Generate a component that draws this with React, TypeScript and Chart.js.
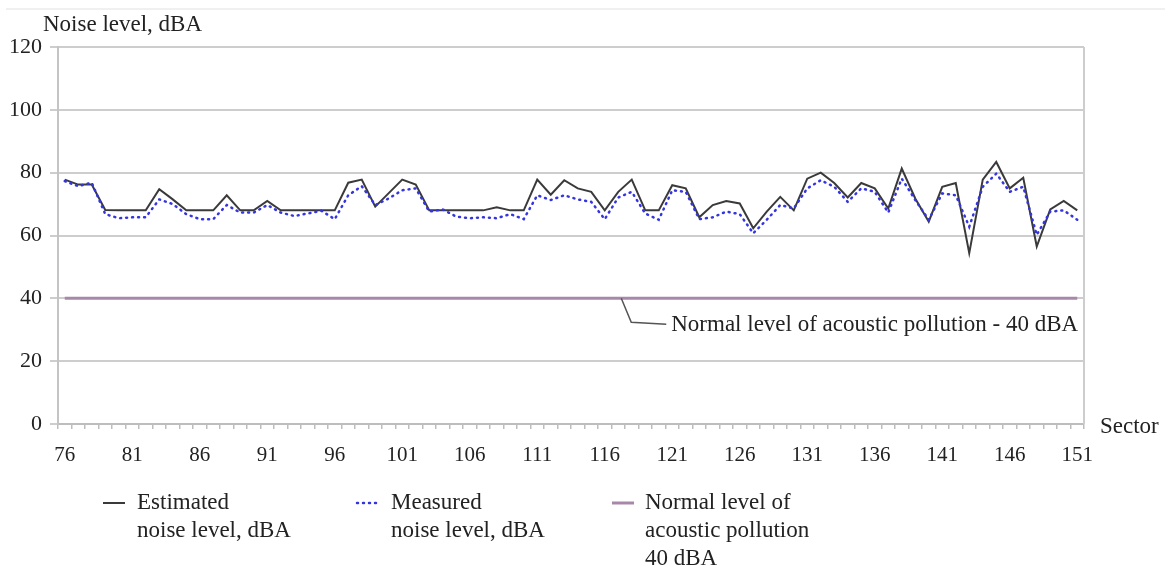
import React, { useEffect, useRef } from "react";
import { Chart, registerables } from "chart.js";

Chart.register(...registerables);

const sectors = [
  "76", "77", "78", "79", "80", "81", "82", "83", "84", "85", "86", "87", "88", "89", "90",
  "91", "92", "93", "94", "95", "96", "97", "98", "99", "100", "101", "102", "103", "104", "105",
  "106", "107", "108", "109", "110", "111", "112", "113", "114", "115", "116", "117", "118", "119", "120",
  "121", "122", "123", "124", "125", "126", "127", "128", "129", "130", "131", "132", "133", "134", "135",
  "136", "137", "138", "139", "140", "141", "142", "143", "144", "145", "146", "147", "148", "149", "150",
  "151",
];

const estimated = [
  77.8, 76.2, 76.2, 68.1, 68, 68, 68, 74.7, 71.5, 68, 68, 68, 72.8, 68, 68,
  71, 68, 68, 68, 68, 68, 76.8, 77.8, 69.2, 73.5, 77.8, 76.2, 68, 68, 68,
  68, 68, 69, 68, 68, 77.8, 73, 77.6, 75, 73.9, 68, 73.9, 77.8, 68, 68,
  76, 75, 65.8, 69.7, 71, 70.2, 62.3, 67.6, 72.3, 68, 78.1, 80, 76.7, 72.1, 76.7,
  75, 68.6, 81.3, 71.8, 64.4, 75.5, 76.7, 54.4, 77.8, 83.4, 75, 78.4, 56.5, 68.3, 71,
  68,
];

const measured = [
  77.3, 75.7, 76.8, 66.8, 65.5, 65.8, 65.8, 71.5, 70, 66.8, 65.2, 65.2, 69.7, 67.3, 67.3,
  69.7, 67.3, 66.2, 67, 67.9, 65.2, 72.8, 75.7, 69.7, 71.8, 74.4, 75, 67.6, 68.3, 66,
  65.5, 65.8, 65.5, 66.8, 65.2, 72.8, 71.3, 72.8, 71.5, 70.7, 65.2, 72.1, 73.9, 67, 65,
  74.4, 73.9, 65.2, 65.8, 67.6, 66.8, 60.7, 65, 69.7, 68.6, 75, 77.6, 75.5, 70.7, 75,
  73.9, 67.3, 78.1, 71.3, 65, 73.4, 72.8, 62.8, 75.5, 79.7, 73.9, 75.5, 60.2, 67.6, 68,
  65,
];

const normalLevel = [
  40, 40, 40, 40, 40, 40, 40, 40, 40, 40, 40, 40, 40, 40, 40,
  40, 40, 40, 40, 40, 40, 40, 40, 40, 40, 40, 40, 40, 40, 40,
  40, 40, 40, 40, 40, 40, 40, 40, 40, 40, 40, 40, 40, 40, 40,
  40, 40, 40, 40, 40, 40, 40, 40, 40, 40, 40, 40, 40, 40, 40,
  40, 40, 40, 40, 40, 40, 40, 40, 40, 40, 40, 40, 40, 40, 40,
  40,
];

const yTicks = [0, 20, 40, 60, 80, 100, 120];

const legendLabels = [
  ["Estimated", "noise level, dBA"],
  ["Measured", "noise level, dBA"],
  ["Normal level of", "acoustic pollution", "40 dBA"],
];

const yTitle = "Noise level, dBA";
const xTitle = "Sector";
const annotationText = "Normal level of acoustic pollution - 40 dBA";

const FONT = "'Liberation Serif', 'Times New Roman', serif";
const C_EST = "#3a3a3a";
const C_MEAS = "#3535e0";
const C_NORM = "#a888a8";
const C_GRID = "#cdcdcd";
const C_TEXT = "#222222";

const overlayPlugin = {
  id: "overlay",
  afterDraw(chart: any) {
    const { ctx, chartArea, scales } = chart;
    const xs = scales.x;
    const ys = scales.y;
    ctx.save();
    // right border of plot
    ctx.strokeStyle = C_GRID;
    ctx.lineWidth = 2;
    ctx.beginPath();
    ctx.moveTo(chartArea.right, chartArea.top);
    ctx.lineTo(chartArea.right, chartArea.bottom);
    ctx.stroke();
    // faint outer top line
    ctx.strokeStyle = "#f0f0f0";
    ctx.lineWidth = 2;
    ctx.beginPath();
    ctx.moveTo(6, 9);
    ctx.lineTo(1165, 9);
    ctx.stroke();

    ctx.fillStyle = C_TEXT;
    ctx.font = `23px ${FONT}`;
    ctx.textBaseline = "middle";
    ctx.textAlign = "left";
    ctx.fillText(yTitle, 43, 25);
    ctx.fillText(xTitle, chartArea.right + 16, chartArea.bottom + 3);

    // annotation leader
    const y40 = ys.getPixelForValue(40);
    const sx = xs.getPixelForValue(41) + 3;
    ctx.strokeStyle = "#555555";
    ctx.lineWidth = 1.5;
    ctx.beginPath();
    ctx.moveTo(sx, y40);
    ctx.lineTo(sx + 10, y40 + 24);
    ctx.lineTo(sx + 45, y40 + 26);
    ctx.stroke();
    ctx.fillText(annotationText, sx + 50, y40 + 27);

    // legend
    const ds = chart.data.datasets;
    const items = [
      { x: 103, tx: 137 },
      { x: 357, tx: 391 },
      { x: 612, tx: 645 },
    ];
    const ly = 503;
    const lh = 28;
    items.forEach((it, i) => {
      const d = ds[i];
      ctx.save();
      ctx.strokeStyle = d.borderColor;
      ctx.lineWidth = d.borderWidth;
      if (d.borderDash) ctx.setLineDash(d.borderDash);
      ctx.lineCap = d.borderCapStyle || "butt";
      ctx.beginPath();
      ctx.moveTo(it.x, ly);
      ctx.lineTo(it.x + 22, ly);
      ctx.stroke();
      ctx.restore();
      ctx.fillStyle = C_TEXT;
      legendLabels[i].forEach((t, j) => {
        ctx.fillText(t, it.tx, ly + j * lh);
      });
    });
    ctx.restore();
  },
};

export default function App() {
  const ref = useRef<HTMLCanvasElement>(null);
  useEffect(() => {
    document.body.style.margin = "0";
    const canvas = ref.current;
    if (!canvas) return;
    const chart = new Chart(canvas, {
      type: "line",
      data: {
        labels: sectors,
        datasets: [
          {
            label: legendLabels[0].join(" "),
            data: estimated,
            borderColor: C_EST,
            borderWidth: 2,
            pointRadius: 0,
            tension: 0,
            order: 1,
          },
          {
            label: legendLabels[1].join(" "),
            data: measured,
            borderColor: C_MEAS,
            borderWidth: 2.5,
            borderDash: [1, 5],
            borderCapStyle: "round",
            pointRadius: 0,
            tension: 0,
            order: 0,
          },
          {
            label: legendLabels[2].join(" "),
            data: normalLevel,
            borderColor: C_NORM,
            borderWidth: 3,
            pointRadius: 0,
            tension: 0,
            order: 2,
          },
        ] as any,
      },
      options: {
        responsive: false,
        animation: false,
        layout: { padding: { left: 0, top: 47, right: 85, bottom: 0 } },
        plugins: {
          legend: { display: false },
          tooltip: { enabled: false },
          title: { display: false },
        },
        scales: {
          x: {
            type: "category",
            offset: true,
            grid: {
              offset: true,
              drawOnChartArea: false,
              drawTicks: true,
              tickLength: 5,
              color: "#bdbdbd",
              lineWidth: 1.5,
            },
            border: { display: true, color: "#bdbdbd", width: 2 },
            ticks: {
              autoSkip: false,
              maxRotation: 0,
              minRotation: 0,
              padding: 14,
              color: C_TEXT,
              font: { family: FONT, size: 21 },
              callback: (_v: any, i: number) => (i % 5 === 0 ? sectors[i] : ""),
            },
            afterFit: (s: any) => {
              s.height = 145;
            },
          },
          y: {
            min: 0,
            max: 120,
            afterBuildTicks: (s: any) => {
              s.ticks = yTicks.map((v) => ({ value: v }));
            },
            grid: {
              color: C_GRID,
              lineWidth: 2,
              tickLength: 8,
              drawTicks: true,
            },
            border: { display: true, color: "#c4c4c4", width: 2 },
            ticks: {
              padding: 8,
              color: C_TEXT,
              font: { family: FONT, size: 22 },
            },
            afterFit: (s: any) => {
              s.width = 58;
            },
          },
        },
      },
      plugins: [overlayPlugin],
    });
    return () => chart.destroy();
  }, []);
  return (
    <div style={{ width: 1169, height: 569, background: "#ffffff" }}>
      <canvas ref={ref} width={1169} height={569} />
    </div>
  );
}
